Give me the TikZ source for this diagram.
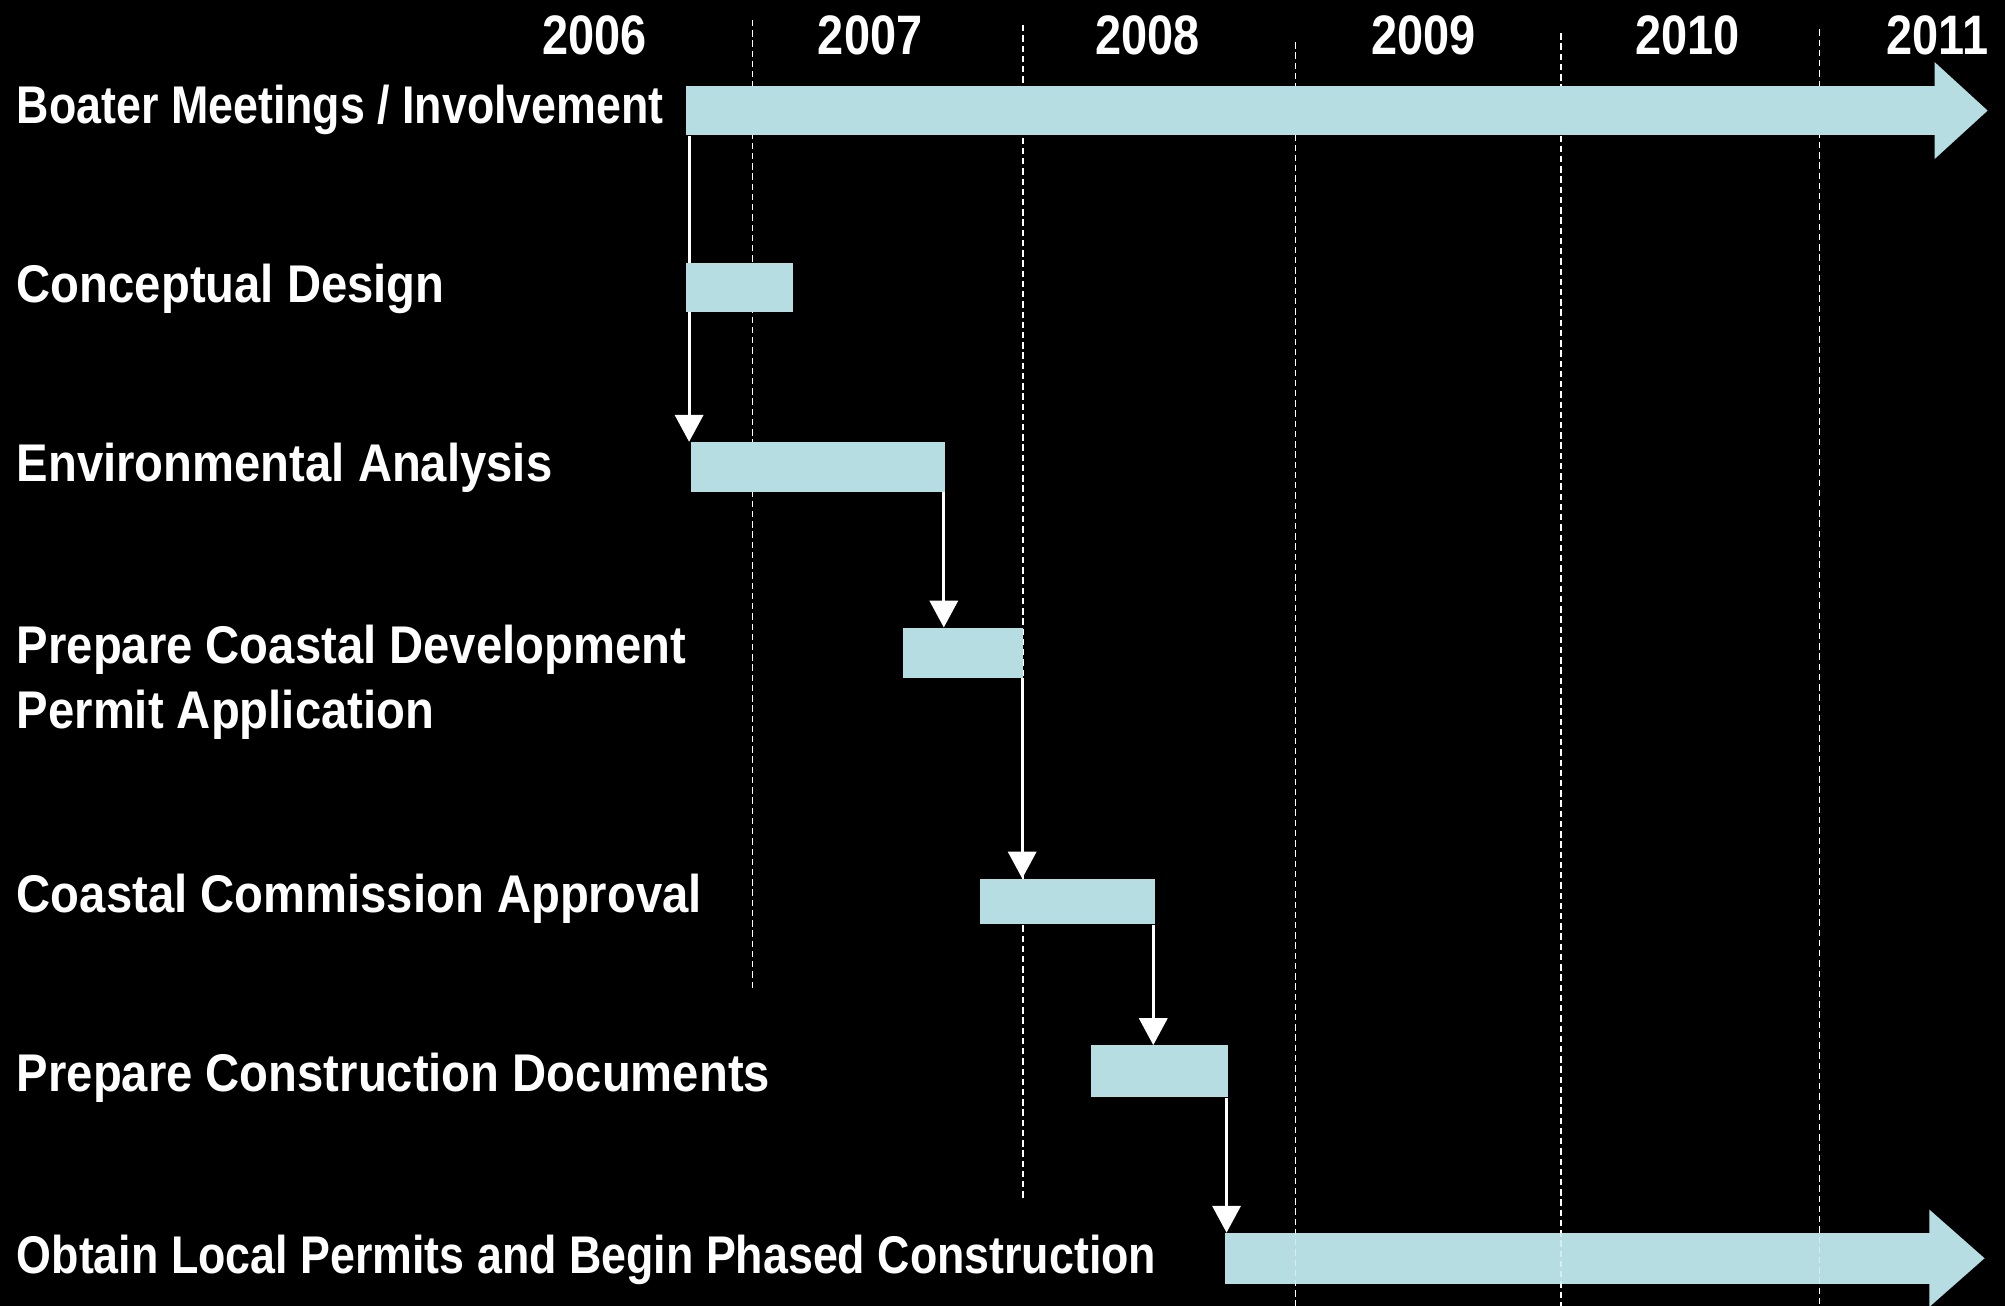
\documentclass[tikz,border=0pt]{standalone}
\usepackage{fontspec}
\usepackage{graphicx}
\setmainfont{Liberation Sans}[FakeStretch=0.89]
\usetikzlibrary{arrows.meta}
\definecolor{barfill}{HTML}{B6DEE2}
\newcommand{\tighter}[1]{\scalebox{0.948}[1]{#1}}
\begin{document}
\begin{tikzpicture}[x=1pt,y=-1pt,
  bar/.style={rectangle, fill=barfill, draw=none, inner sep=0pt, anchor=north west},
  task/.style={text=white, font=\fontsize{41.5}{50.8}\selectfont\bfseries, anchor=base west, inner sep=0pt},
  year/.style={text=white, font=\fontsize{43.5}{50}\selectfont\bfseries, anchor=base, inner sep=0pt},
  grid/.style={white, line width=1.3pt, dash pattern=on 5pt off 3pt},
  link/.style={white, line width=2.4pt, -{Triangle[width=22pt,length=21pt]}},
]
% black page
\fill[black] (0,0) rectangle (1568,1021);
\useasboundingbox (0,0) rectangle (1568,1021);

% year headings
\node[year] (y2006) at (465,43)  {\tighter{2006}};
\node[year] (y2007) at (680.5,43) {\tighter{2007}};
\node[year] (y2008) at (897.5,43) {\tighter{2008}};
\node[year] (y2009) at (1113.5,43) {\tighter{2009}};
\node[year] (y2010) at (1320,43) {\tighter{2010}};
\node[year] (y2011) at (1515,43) {\tighter{2011}};

% mid-year dashed guides
\draw[grid] (588.5,15.6) -- (588.5,773.7);
\draw[grid] (800,19.6) -- (800,937);
\draw[grid] (1013,33) -- (1013,1021);
\draw[grid] (1221,26) -- (1221,1021);
\draw[grid] (1423,23) -- (1423,1021);

% task labels
\node[task] (l1)  at (13,96.4)  {\tighter{Boater Meetings / Involvement}};
\node[task] (l2)  at (13,236.2) {Conceptual Design};
\node[task] (l3)  at (13,376.4) {Environmental Analysis};
\node[task] (l4a) at (13,518.7) {Prepare Coastal Development};
\node[task] (l4b) at (13,569.6) {Permit Application};
\node[task] (l5)  at (13,713.4) {Coastal Commission Approval};
\node[task] (l6)  at (13,853.4) {Prepare Construction Documents};
\node[task] (l7)  at (13,995.8) {\tighter{Obtain Local Permits and Begin Phased Construction}};

% open-ended construction bar, with the guides showing faintly through it
\node[bar, minimum width=551pt, minimum height=39.6pt] (obtain) at (958,964) {};
\fill[barfill] ([xshift=-0.5pt,yshift=18pt]obtain.north east) -- ([xshift=42.6pt]obtain.east)
  -- ([xshift=-0.5pt,yshift=-18pt]obtain.south east) -- cycle;
\begin{scope}
  \clip (958,946) rectangle (1552,1022);
  \draw[grid, opacity=0.45] (1013,33) -- (1013,1021);
  \draw[grid, opacity=0.45] (1221,26) -- (1221,1021);
  \draw[grid, opacity=0.45] (1423,23) -- (1423,1021);
\end{scope}

% task bars
\node[bar, minimum width=976.8pt, minimum height=38.6pt] (boater) at (536.2,67) {};
\node[bar, minimum width=198.3pt, minimum height=38.9pt] (env) at (540.4,345.5) {};
\node[bar, minimum width=94pt, minimum height=39pt] (cdp) at (706,490.7) {};
\node[bar, minimum width=137pt, minimum height=35.6pt] (cca) at (766,687) {};
\node[bar, minimum width=107pt, minimum height=40.7pt] (cons) at (853.3,817.3) {};

% dependency links
\draw[link] ([xshift=-1.5pt]env.north west |- boater.south) -- ([xshift=-1.5pt]env.north west);
\draw[link] ([xshift=-1pt]env.south east) -- ([xshift=-1pt]env.south east |- cdp.north);
\draw[link] ([xshift=-1pt]cdp.south east) -- ([xshift=-1pt]cdp.south east |- cca.north);
\draw[link] ([xshift=-1.5pt]cca.south east) -- ([xshift=-1.5pt]cca.south east |- cons.north);
\draw[link] ([xshift=-1.5pt]cons.south east) -- ([xshift=-1.5pt]cons.south east |- obtain.north);

% ongoing boater involvement arrow
\fill[barfill] ([xshift=-0.5pt,yshift=18.5pt]boater.north east) -- ([xshift=41pt]boater.east)
  -- ([xshift=-0.5pt,yshift=-18.4pt]boater.south east) -- cycle;

% short conceptual design bar, lying over the first link
\node[bar, minimum width=83.8pt, minimum height=38.3pt] (cd) at (536.2,205.7) {};
\end{tikzpicture}
\end{document}
